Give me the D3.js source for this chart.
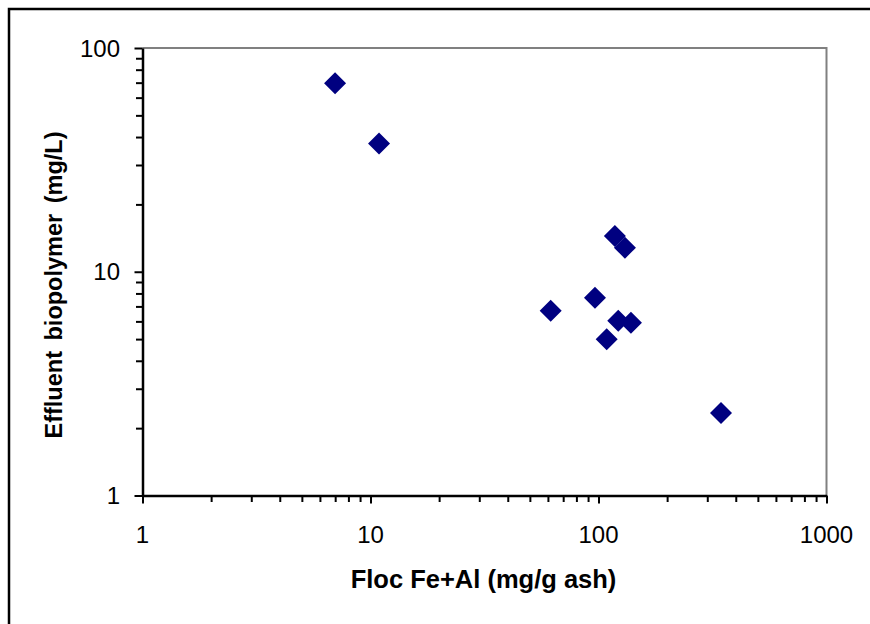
<!DOCTYPE html>
<html>
<head>
<meta charset="utf-8">
<script src="https://cdn.jsdelivr.net/npm/d3@7"></script>
<style>
    body { margin: 0; background: #fff; }
    svg { display: block; }
    text { font-family: "Liberation Sans", Arial, sans-serif; fill: #000; }
</style>
</head>
<body>
<svg id="chart"></svg>
<script>
// Floc Fe+Al (mg/g ash) vs effluent biopolymer (mg/L)
const flocFeAl = [6.99, 10.9, 61.7, 96.5, 118, 130.6, 122.1, 138.8, 108.6, 344.6];
const biopolymer = [69.6, 37.4, 6.7, 7.66, 14.45, 12.81, 6.04, 5.92, 4.99, 2.34];
const xTickLabels = ["1", "10", "100", "1000"];
const yTickLabels = ["1", "10", "100"];

const width = 870,
    height = 624;
const plotLeft = 142.5,
    plotRight = 826.5,
    plotTop = 48,
    plotBottom = 495.5;

const svg = d3.select("#chart").attr("width", width).attr("height", height);

// outer frame
svg.append("rect")
    .attr("x", 9)
    .attr("y", 9)
    .attr("width", width + 20)
    .attr("height", height + 20)
    .attr("fill", "none")
    .attr("stroke", "#000")
    .attr("stroke-width", 2.5);

const xScale = d3.scaleLog().domain([1, 1000]).range([plotLeft, plotRight]);
const yScale = d3.scaleLog().domain([1, 100]).range([plotBottom, plotTop]);

const isMajor = (v) => Math.abs(Math.log10(v) - Math.round(Math.log10(v))) < 1e-9;

// plot area top / right edges (grey)
svg.append("path")
    .attr("d", `M${plotLeft},${plotTop}H${plotRight}V${plotBottom}`)
    .attr("fill", "none")
    .attr("stroke", "#808080")
    .attr("stroke-width", 2);

const xAxis = d3.axisBottom(xScale)
    .tickValues(xScale.ticks())
    .tickSize(0)
    .tickFormat("");
const yAxis = d3.axisLeft(yScale)
    .tickValues(yScale.ticks())
    .tickSize(0)
    .tickFormat("");

const gx = svg.append("g")
    .attr("transform", `translate(0, ${plotBottom})`)
    .call(xAxis);
gx.select(".domain").attr("stroke", "#000").attr("stroke-width", 2.5);
gx.selectAll(".tick line")
    .attr("stroke", "#000")
    .attr("stroke-width", 2)
    .attr("y2", (d) => (isMajor(d) ? 8 : 6.5));

const gy = svg.append("g")
    .attr("transform", `translate(${plotLeft}, 0)`)
    .call(yAxis);
gy.select(".domain").attr("stroke", "#000").attr("stroke-width", 2.5);
gy.selectAll(".tick line")
    .attr("stroke", "#000")
    .attr("stroke-width", 2)
    .attr("x2", (d) => (isMajor(d) ? -8 : -6.5));

// tick labels
svg.selectAll(".xlab")
    .data(xTickLabels)
    .enter()
    .append("text")
    .attr("class", "xlab")
    .attr("x", (d) => xScale(+d))
    .attr("y", 543)
    .attr("text-anchor", "middle")
    .attr("font-size", 24)
    .text((d) => d);

svg.selectAll(".ylab")
    .data(yTickLabels)
    .enter()
    .append("text")
    .attr("class", "ylab")
    .attr("x", 120)
    .attr("y", (d) => yScale(+d))
    .attr("dy", "0.36em")
    .attr("text-anchor", "end")
    .attr("font-size", 24)
    .text((d) => d);

// axis titles
svg.append("text")
    .attr("x", (plotLeft + plotRight) / 2 - 1)
    .attr("y", 588)
    .attr("text-anchor", "middle")
    .attr("font-size", 25.5)
    .attr("font-weight", "bold")
    .text("Floc Fe+Al (mg/g ash)");

svg.append("text")
    .attr("transform", `translate(62, 285) rotate(-90)`)
    .attr("text-anchor", "middle")
    .attr("font-size", 23.5)
    .attr("font-weight", "bold")
    .attr("word-spacing", 4)
    .text("Effluent biopolymer (mg/L)");

// points
const points = flocFeAl.map((x, i) => ({ x: x, y: biopolymer[i] }));
const diamond = d3.symbol().type(d3.symbolSquare).size(242);

svg.selectAll(".pt")
    .data(points)
    .enter()
    .append("path")
    .attr("class", "pt")
    .attr("d", diamond)
    .attr("transform", (d) => `translate(${xScale(d.x)}, ${yScale(d.y)}) rotate(45)`)
    .attr("fill", "#000080");
</script>
</body>
</html>
